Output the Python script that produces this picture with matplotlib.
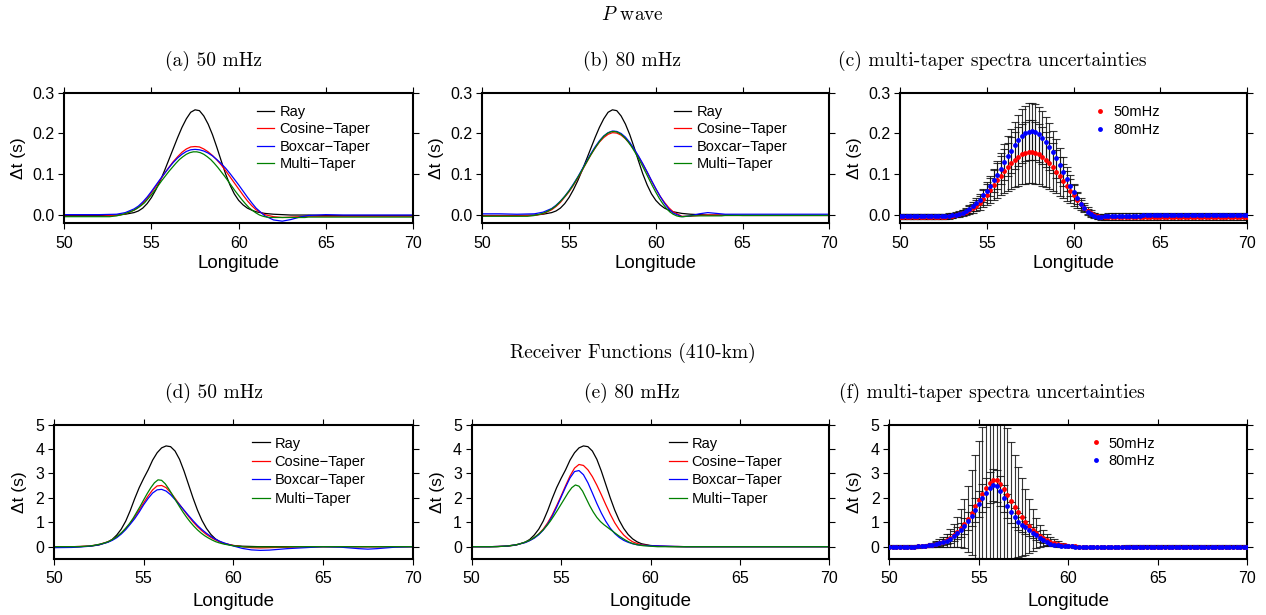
import numpy as np
import matplotlib.pyplot as plt

plt.rcParams['font.family'] = ['Liberation Sans', 'DejaVu Sans']
plt.rcParams['mathtext.fontset'] = 'cm'

# longitude sampling of the curves (deg)
lon_top = [50, 51, 52, 53, 53.5,
           54, 54.25, 54.5, 54.75, 55, 55.25, 55.5, 55.75, 56, 56.25,
           56.5, 56.75, 57, 57.25, 57.5, 57.75, 58, 58.25, 58.5, 58.75,
           59, 59.25, 59.5, 59.75, 60, 60.25, 60.5, 60.75, 61,
           61.5, 62, 62.5, 63, 63.5, 64, 65, 66, 67, 68, 69, 70]
lon_bot = [50, 51, 51.5, 52, 52.5,
           53, 53.25, 53.5, 53.75, 54, 54.25, 54.5, 54.75, 55, 55.25,
           55.5, 55.75, 56, 56.25, 56.5, 56.75, 57, 57.25, 57.5, 57.75,
           58, 58.25, 58.5, 58.75, 59, 59.25,
           59.5, 60, 60.5, 61, 61.5, 62, 63, 64, 65, 66, 67, 67.5, 68, 69, 70]
lon_dots = np.round(np.linspace(50, 70, 101), 1)

# ---- P wave ----
ray_p = [-0.001, -0.001, -0.001, 0.0, 0.002,
         0.006, 0.01, 0.017, 0.028, 0.043, 0.062, 0.084, 0.109, 0.136, 0.163,
         0.19, 0.215, 0.236, 0.252, 0.258, 0.256, 0.243, 0.223, 0.197, 0.166,
         0.133, 0.101, 0.074, 0.052, 0.036, 0.025, 0.017, 0.012, 0.008,
         0.004, 0.002, 0.001, 0.0, 0.0, 0.0, -0.001, -0.001, -0.001, -0.001, -0.001, -0.001]
cos_p50 = [-0.003, -0.003, -0.003, -0.001, 0.003,
           0.012, 0.019, 0.029, 0.041, 0.055, 0.07, 0.086, 0.102, 0.117, 0.131,
           0.143, 0.154, 0.162, 0.167, 0.168, 0.167, 0.162, 0.155, 0.146, 0.135,
           0.123, 0.109, 0.094, 0.079, 0.064, 0.049, 0.035, 0.023, 0.013,
           0.001, -0.004, -0.006, -0.005, -0.004, -0.003, -0.003, -0.003, -0.003, -0.003, -0.003, -0.003]
box_p50 = [0.001, 0.001, 0.001, 0.002, 0.006,
           0.015, 0.022, 0.032, 0.044, 0.058, 0.073, 0.088, 0.102, 0.116, 0.129,
           0.14, 0.149, 0.156, 0.16, 0.161, 0.16, 0.157, 0.152, 0.145, 0.136,
           0.126, 0.115, 0.102, 0.088, 0.074, 0.059, 0.044, 0.03, 0.017,
           -0.002, -0.012, -0.015, -0.011, -0.005, -0.001, 0.001, 0.0, 0.0, 0.0, 0.0, 0.0]
cos_p80 = [-0.002, -0.002, -0.002, -0.001, 0.003,
           0.013, 0.021, 0.031, 0.044, 0.057, 0.073, 0.09, 0.109, 0.128, 0.147,
           0.164, 0.179, 0.19, 0.198, 0.202, 0.201, 0.196, 0.187, 0.175, 0.16,
           0.143, 0.125, 0.105, 0.084, 0.064, 0.046, 0.031, 0.018, 0.008,
           -0.003, -0.003, -0.001, 0.0, 0.0, -0.001, -0.001, -0.001, -0.001, -0.001, -0.001, -0.001]
box_p80 = [0.003, 0.003, 0.002, 0.003, 0.007,
           0.016, 0.024, 0.034, 0.046, 0.06, 0.076, 0.093, 0.112, 0.131, 0.15,
           0.167, 0.182, 0.194, 0.202, 0.206, 0.205, 0.2, 0.191, 0.178, 0.162,
           0.145, 0.126, 0.106, 0.085, 0.065, 0.046, 0.029, 0.015, 0.005,
           -0.004, -0.002, 0.003, 0.006, 0.004, 0.002, 0.002, 0.002, 0.002, 0.002, 0.002, 0.002]
# multi-taper (also the dots of panel c), every 0.2 deg
mt_p50 = [-0.004, -0.004, -0.004, -0.004, -0.004, -0.004, -0.004, -0.004, -0.004, -0.004,
          -0.004, -0.004, -0.004, -0.004, -0.003, -0.002, 0.0, 0.002, 0.005, 0.008,
          0.012, 0.017, 0.023, 0.03, 0.04, 0.05, 0.061, 0.073, 0.085, 0.096,
          0.107, 0.117, 0.127, 0.136, 0.143, 0.149, 0.153, 0.155, 0.155, 0.153,
          0.149, 0.143, 0.136, 0.127, 0.117, 0.106, 0.095, 0.083, 0.071, 0.059,
          0.048, 0.037, 0.027, 0.018, 0.011, 0.005, 0.0, -0.003, -0.005, -0.006,
          -0.006, -0.006, -0.006, -0.006, -0.006, -0.006, -0.006, -0.006, -0.006, -0.006,
          -0.005, -0.005, -0.005, -0.005, -0.005, -0.005, -0.005, -0.005, -0.005, -0.005,
          -0.005, -0.005, -0.005, -0.005, -0.005, -0.005, -0.005, -0.005, -0.005, -0.005,
          -0.005, -0.005, -0.005, -0.005, -0.005, -0.005, -0.005, -0.005, -0.005, -0.005,
          -0.005]
mt_p80 = [-0.003, -0.003, -0.003, -0.003, -0.003, -0.003, -0.003, -0.003, -0.003, -0.003,
          -0.003, -0.003, -0.003, -0.003, -0.002, -0.001, 0.001, 0.003, 0.006, 0.01,
          0.015, 0.021, 0.029, 0.038, 0.048, 0.059, 0.071, 0.085, 0.099, 0.114,
          0.129, 0.144, 0.158, 0.171, 0.183, 0.193, 0.2, 0.204, 0.205, 0.203,
          0.198, 0.19, 0.18, 0.168, 0.154, 0.139, 0.123, 0.106, 0.089, 0.072,
          0.056, 0.041, 0.028, 0.017, 0.008, 0.002, -0.002, -0.004, -0.004, -0.003,
          -0.002, -0.002, -0.002, -0.002, -0.002, -0.002, -0.002, -0.002, -0.002, -0.002,
          -0.001, -0.001, -0.001, -0.001, -0.001, -0.001, -0.001, -0.001, -0.001, -0.001,
          -0.001, -0.001, -0.001, -0.001, -0.001, -0.001, -0.001, -0.001, -0.001, -0.001,
          -0.001, -0.001, -0.001, -0.001, -0.001, -0.001, -0.001, -0.001, -0.001, -0.001,
          -0.001]
err_p50 = [0.006, 0.006, 0.006, 0.006, 0.006, 0.006, 0.006, 0.006, 0.006, 0.006,
           0.006, 0.006, 0.006, 0.006, 0.006, 0.006, 0.006, 0.006, 0.007, 0.008,
           0.009, 0.011, 0.014, 0.017, 0.021, 0.026, 0.031, 0.037, 0.043, 0.048,
           0.054, 0.059, 0.064, 0.068, 0.072, 0.074, 0.076, 0.077, 0.077, 0.076,
           0.074, 0.072, 0.068, 0.064, 0.059, 0.053, 0.048, 0.042, 0.036, 0.03,
           0.025, 0.02, 0.015, 0.011, 0.008, 0.007, 0.006, 0.006, 0.006, 0.006,
           0.006, 0.006, 0.006, 0.006, 0.006, 0.006, 0.006, 0.006, 0.006, 0.006,
           0.006, 0.006, 0.006, 0.006, 0.006, 0.006, 0.006, 0.006, 0.006, 0.006,
           0.006, 0.006, 0.006, 0.006, 0.006, 0.006, 0.006, 0.006, 0.006, 0.006,
           0.006, 0.006, 0.006, 0.006, 0.006, 0.006, 0.006, 0.006, 0.006, 0.006,
           0.006]
err_p80 = [0.006, 0.006, 0.006, 0.006, 0.006, 0.006, 0.006, 0.006, 0.006, 0.006,
           0.006, 0.006, 0.006, 0.006, 0.006, 0.006, 0.006, 0.006, 0.007, 0.008,
           0.009, 0.01, 0.012, 0.014, 0.017, 0.021, 0.025, 0.029, 0.034, 0.039,
           0.044, 0.049, 0.054, 0.058, 0.062, 0.066, 0.068, 0.07, 0.07, 0.069,
           0.067, 0.065, 0.061, 0.057, 0.052, 0.047, 0.042, 0.036, 0.03, 0.025,
           0.019, 0.014, 0.01, 0.008, 0.007, 0.006, 0.006, 0.006, 0.006, 0.006,
           0.006, 0.006, 0.006, 0.006, 0.006, 0.006, 0.006, 0.006, 0.006, 0.006,
           0.006, 0.006, 0.006, 0.006, 0.006, 0.006, 0.006, 0.006, 0.006, 0.006,
           0.006, 0.006, 0.006, 0.006, 0.006, 0.006, 0.006, 0.006, 0.006, 0.006,
           0.006, 0.006, 0.006, 0.006, 0.006, 0.006, 0.006, 0.006, 0.006, 0.006,
           0.006]

# ---- Receiver functions (410-km) ----
ray_r = [0.0, 0.0, 0.01, 0.02, 0.07,
         0.19, 0.3, 0.48, 0.72, 1.05, 1.48, 1.97, 2.42, 2.8, 3.15,
         3.55, 3.85, 4.05, 4.13, 4.1, 3.92, 3.58, 3.1, 2.55, 2.0,
         1.5, 1.08, 0.75, 0.5, 0.32, 0.2,
         0.12, 0.05, 0.02, 0.01, 0.0, 0.0, 0.0, 0.0, 0.0, 0.0, 0.0, 0.0, 0.0, 0.0, 0.0]
cos_r50 = [0.0, 0.0, 0.01, 0.03, 0.09,
           0.2, 0.29, 0.4, 0.55, 0.74, 0.96, 1.22, 1.5, 1.8, 2.08,
           2.33, 2.49, 2.51, 2.42, 2.22, 1.98, 1.73, 1.48, 1.24, 1.02,
           0.82, 0.65, 0.5, 0.38, 0.28, 0.2,
           0.14, 0.05, 0.0, -0.04, -0.05, -0.04, -0.02, 0.0, 0.0, 0.0, 0.0, 0.0, 0.0, 0.0, 0.0]
box_r50 = [-0.04, -0.03, -0.01, 0.02, 0.08,
           0.18, 0.26, 0.37, 0.52, 0.7, 0.92, 1.15, 1.42, 1.72, 1.98,
           2.2, 2.33, 2.35, 2.28, 2.13, 1.93, 1.72, 1.5, 1.28, 1.07,
           0.87, 0.7, 0.55, 0.42, 0.31, 0.22,
           0.15, 0.03, -0.07, -0.13, -0.15, -0.14, -0.08, -0.04, 0.0, -0.02, -0.08, -0.1, -0.08, -0.02, 0.0]
cos_r80 = [0.0, 0.0, 0.01, 0.03, 0.08,
           0.18, 0.26, 0.37, 0.52, 0.72, 0.98, 1.3, 1.68, 2.08, 2.5,
           2.9, 3.22, 3.37, 3.33, 3.15, 2.87, 2.52, 2.13, 1.72, 1.33,
           0.98, 0.7, 0.48, 0.32, 0.2, 0.13,
           0.08, 0.04, 0.02, 0.01, 0.01, 0.0, 0.0, 0.0, 0.0, 0.0, 0.0, 0.0, 0.0, 0.0, 0.0]
box_r80 = [0.0, 0.0, 0.01, 0.03, 0.08,
           0.17, 0.25, 0.35, 0.49, 0.68, 0.93, 1.24, 1.62, 2.03, 2.44,
           2.82, 3.08, 3.12, 2.95, 2.62, 2.2, 1.77, 1.38, 1.04, 0.76,
           0.54, 0.38, 0.26, 0.18, 0.12, 0.08,
           0.06, 0.04, 0.03, 0.02, 0.01, 0.0, 0.0, 0.0, 0.0, 0.0, 0.0, 0.0, 0.0, 0.0, 0.0]
mt_r50 = [0.0, 0.0, 0.0, 0.0, 0.0, 0.0, 0.0, 0.0, 0.01, 0.02,
          0.03, 0.05, 0.08, 0.11, 0.15, 0.2, 0.27, 0.36, 0.47, 0.6,
          0.76, 0.94, 1.15, 1.4, 1.65, 1.92, 2.18, 2.42, 2.62, 2.74,
          2.72, 2.58, 2.37, 2.13, 1.88, 1.64, 1.41, 1.2, 1.01, 0.84,
          0.69, 0.56, 0.45, 0.36, 0.28, 0.21, 0.16, 0.12, 0.09, 0.06,
          0.04, 0.02, 0.01, -0.01, -0.01, -0.01, -0.01, -0.01, -0.01, -0.01,
          -0.01, -0.01, -0.01, -0.01, -0.01, -0.01, 0.0, 0.0, 0.0, 0.0,
          0.0, 0.0, 0.0, 0.0, 0.0, 0.0, 0.0, 0.0, 0.0, 0.0,
          0.0, 0.0, 0.0, 0.0, 0.0, 0.0, 0.0, 0.0, 0.0, 0.0,
          0.0, 0.0, 0.0, 0.0, 0.0, 0.0, 0.0, 0.0, 0.0, 0.0,
          0.0]
mt_r80 = [0.0, 0.0, 0.0, 0.0, 0.0, 0.0, 0.0, 0.0, 0.01, 0.02,
          0.03, 0.05, 0.07, 0.1, 0.14, 0.19, 0.25, 0.33, 0.43, 0.55,
          0.69, 0.86, 1.05, 1.27, 1.5, 1.74, 1.98, 2.22, 2.42, 2.53,
          2.48, 2.28, 1.98, 1.68, 1.42, 1.2, 1.03, 0.9, 0.79, 0.68,
          0.57, 0.46, 0.36, 0.27, 0.19, 0.13, 0.09, 0.06, 0.04, 0.03,
          0.02, 0.01, 0.0, 0.0, 0.0, 0.0, 0.0, 0.0, 0.0, 0.0,
          0.0, 0.0, 0.0, 0.0, 0.0, 0.0, 0.0, 0.0, 0.0, 0.0,
          0.0, 0.0, 0.0, 0.0, 0.0, 0.0, 0.0, 0.0, 0.0, 0.0,
          0.0, 0.0, 0.0, 0.0, 0.0, 0.0, 0.0, 0.0, 0.0, 0.0,
          0.0, 0.0, 0.0, 0.0, 0.0, 0.0, 0.0, 0.0, 0.0, 0.0,
          0.0]
err_r50 = [0.05, 0.05, 0.05, 0.05, 0.05, 0.05, 0.05, 0.05, 0.05, 0.05,
           0.05, 0.06, 0.08, 0.11, 0.15, 0.2, 0.27, 0.36, 0.47, 0.6,
           0.78, 1.0, 1.35, 1.75, 2.1, 2.4, 2.72, 3.0, 3.25, 3.4,
           3.4, 3.25, 3.0, 2.72, 2.4, 2.1, 1.85, 1.6, 1.35, 1.1,
           0.85, 0.62, 0.45, 0.33, 0.25, 0.19, 0.14, 0.11, 0.08, 0.06,
           0.05, 0.05, 0.05, 0.05, 0.05, 0.05, 0.05, 0.05, 0.05, 0.05,
           0.05, 0.05, 0.05, 0.05, 0.05, 0.05, 0.05, 0.05, 0.05, 0.05,
           0.05, 0.05, 0.05, 0.05, 0.05, 0.05, 0.05, 0.05, 0.05, 0.05,
           0.05, 0.05, 0.05, 0.05, 0.05, 0.05, 0.05, 0.05, 0.05, 0.05,
           0.05, 0.05, 0.05, 0.05, 0.05, 0.05, 0.05, 0.05, 0.05, 0.05,
           0.05]
err_r80 = [0.04, 0.04, 0.04, 0.04, 0.04, 0.04, 0.04, 0.04, 0.04, 0.05,
           0.05, 0.06, 0.07, 0.08, 0.1, 0.12, 0.14, 0.17, 0.2, 0.24,
           0.28, 0.33, 0.38, 0.43, 0.48, 0.53, 0.57, 0.61, 0.64, 0.66,
           0.65, 0.61, 0.55, 0.49, 0.43, 0.38, 0.34, 0.31, 0.28, 0.25,
           0.22, 0.19, 0.16, 0.13, 0.1, 0.08, 0.07, 0.06, 0.05, 0.05,
           0.04, 0.04, 0.04, 0.04, 0.04, 0.04, 0.04, 0.04, 0.04, 0.04,
           0.04, 0.04, 0.04, 0.04, 0.04, 0.04, 0.04, 0.04, 0.04, 0.04,
           0.04, 0.04, 0.04, 0.04, 0.04, 0.04, 0.04, 0.04, 0.04, 0.04,
           0.04, 0.04, 0.04, 0.04, 0.04, 0.04, 0.04, 0.04, 0.04, 0.04,
           0.04, 0.04, 0.04, 0.04, 0.04, 0.04, 0.04, 0.04, 0.04, 0.04,
           0.04]

W, H = 1266, 615
fig = plt.figure(figsize=(W / 100, H / 100), dpi=100)


def add_axes_px(x0, x1, y0, y1):
    return fig.add_axes([x0 / W, 1 - y1 / H, (x1 - x0) / W, (y1 - y0) / H])


def style_axes(ax, ylim, yticks, yfmt, xlab_y, ylab_x):
    ax.set_xlim(50, 70)
    ax.set_ylim(*ylim)
    ax.set_xticks([50, 55, 60, 65, 70])
    ax.set_yticks(yticks)
    ax.set_yticklabels([yfmt % v for v in yticks])
    ax.tick_params(direction='out', length=4.5, width=0.8, top=True, right=True,
                   labelsize=11.5, pad=2.5)
    ax.tick_params(axis='x', pad=4.5)
    for s in ax.spines.values():
        s.set_linewidth(1.5)
    ax.set_xlabel('Longitude', fontsize=13.5)
    ax.set_ylabel('\u0394t (s)', fontsize=12.5)
    ax.xaxis.set_label_coords(0.5, xlab_y)
    ax.yaxis.set_label_coords(ylab_x, 0.5)


def plot_taper_panel(ax, lon, ray, cos, box, mt, leg_y, leg_sp):
    ax.plot(lon, ray, color='black', lw=0.9, label='Ray')
    ax.plot(lon, cos, color='#ff0000', lw=0.9, label='Cosine\u2212Taper')
    ax.plot(lon, box, color='#0000ff', lw=0.9, label='Boxcar\u2212Taper')
    ax.plot(lon_dots, mt, color='#008000', lw=0.9, label='Multi\u2212Taper')
    ax.legend(loc='upper left', bbox_to_anchor=(0.552, leg_y), frameon=False,
              fontsize=10.5, handlelength=1.2, handletextpad=0.35,
              labelspacing=leg_sp, borderpad=0, borderaxespad=0)


def plot_uncert_panel(ax, v50, e50, v80, e80, leg_y):
    ax.errorbar(lon_dots, v50, yerr=e50, fmt='none', ecolor='#111111', elinewidth=0.8,
                capsize=3, capthick=0.8, alpha=0.85, zorder=2)
    ax.errorbar(lon_dots, v80, yerr=e80, fmt='none', ecolor='#111111', elinewidth=0.8,
                capsize=3, capthick=0.8, alpha=0.85, zorder=2)
    ax.plot(lon_dots, v50, 'o', color='#ff0000', ms=3.5, mec='none', label='50mHz', zorder=3)
    ax.plot(lon_dots, v80, 'o', color='#0000ff', ms=3.5, mec='none', label='80mHz', zorder=4)
    ax.legend(loc='upper left', bbox_to_anchor=(0.56, leg_y), frameon=False,
              fontsize=10.5, handlelength=0.8, handletextpad=0.5, numpoints=1,
              labelspacing=0.25, borderpad=0, borderaxespad=0)


top_y = (92.7, 223.2)
bot_y = (424.7, 558.9)

ax_a = add_axes_px(64.3, 413.0, *top_y)
ax_b = add_axes_px(482.3, 829.3, *top_y)
ax_c = add_axes_px(900.0, 1247.3, *top_y)
ax_d = add_axes_px(54.0, 412.7, *bot_y)
ax_e = add_axes_px(471.7, 829.3, *bot_y)
ax_f = add_axes_px(889.3, 1247.3, *bot_y)

plot_taper_panel(ax_a, lon_top, ray_p, cos_p50, box_p50, mt_p50, 0.906, 0.23)
plot_taper_panel(ax_b, lon_top, ray_p, cos_p80, box_p80, mt_p80, 0.906, 0.23)
plot_uncert_panel(ax_c, mt_p50, err_p50, mt_p80, err_p80, 0.906)
plot_taper_panel(ax_d, lon_bot, ray_r, cos_r50, box_r50, mt_r50, 0.912, 0.3)
plot_taper_panel(ax_e, lon_bot, ray_r, cos_r80, box_r80, mt_r80, 0.912, 0.3)
plot_uncert_panel(ax_f, mt_r50, err_r50, mt_r80, err_r80, 0.912)

for ax in (ax_a, ax_b, ax_c):
    style_axes(ax, (-0.02, 0.3), [0.0, 0.1, 0.2, 0.3], '%.1f', -0.245, -0.11)
for ax in (ax_d, ax_e, ax_f):
    style_axes(ax, (-0.5, 5), [0, 1, 2, 3, 4, 5], '%d', -0.255, -0.075)

# captions (serif, LaTeX-like)
cap = dict(family='cmr10', fontsize=14, ha='center', va='center')
fig.text(632.5 / W, 1 - 15 / H, r'$P$ wave', **cap)
fig.text(632.5 / W, 1 - 353 / H, 'Receiver Functions (410-km)', **cap)
for x, txt in [(214, '(a) 50 mHz'), (632, '(b) 80 mHz'),
               (992, '(c) multi-taper spectra uncertainties')]:
    fig.text(x / W, 1 - 61 / H, txt, **cap)
for x, txt in [(214, '(d) 50 mHz'), (632, '(e) 80 mHz'),
               (992, '(f) multi-taper spectra uncertainties')]:
    fig.text(x / W, 1 - 393 / H, txt, **cap)

fig.savefig('out.png', dpi=100)
